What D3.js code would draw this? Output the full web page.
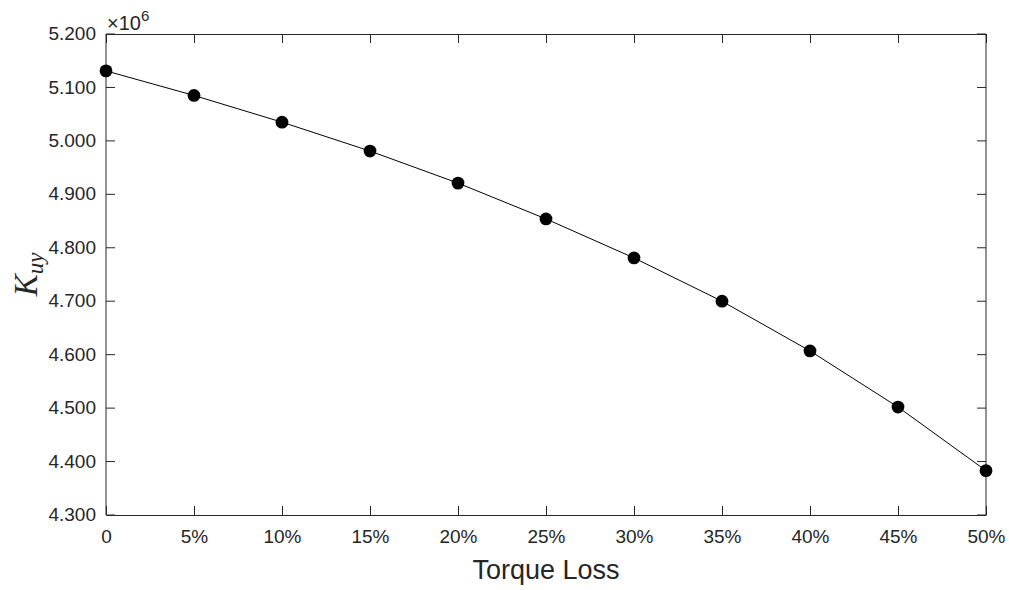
<!DOCTYPE html>
<html>
<head>
<meta charset="utf-8">
<script src="https://cdn.jsdelivr.net/npm/d3@7"></script>
<style>
  html, body { margin: 0; padding: 0; background: #fff; }
  svg { display: block; }
  .axis text { font-family: Arial, "Liberation Sans", Helvetica, sans-serif; font-size: 19px; fill: #262626; }
  .axis path, .axis line { stroke: #262626; }
</style>
</head>
<body>
<svg id="chart" width="1009" height="590"></svg>
<script>
// Torque loss levels (percent) and the corresponding stiffness K_uy
const lossPct = [0, 5, 10, 15, 20, 25, 30, 35, 40, 45, 50];
const kuy = [5131000, 5085000, 5035000, 4981000, 4921000, 4854000,
             4781000, 4700000, 4607000, 4502000, 4383000];
const yTicks = [4300000, 4400000, 4500000, 4600000, 4700000, 4800000,
                4900000, 5000000, 5100000, 5200000];
const xTicks = [0, 5, 10, 15, 20, 25, 30, 35, 40, 45, 50];

const svg = d3.select("#chart");
const margin = { left: 106, top: 34, right: 23, bottom: 75 };
const W = 1009, H = 590;
const iw = W - margin.left - margin.right;
const ih = H - margin.top - margin.bottom;

const g = svg.append("g").attr("transform", `translate(${margin.left},${margin.top})`);

const x = d3.scaleLinear().domain([0, 50]).range([0, iw]);
const y = d3.scaleLinear().domain([4300000, 5200000]).range([ih, 0]);

const fmtX = d => d === 0 ? "0" : d + "%";
const fmtY = d => (d / 1e6).toFixed(3);

// bottom axis with labels, inward ticks
g.append("g").attr("class", "axis").attr("transform", `translate(0,${ih})`)
  .call(d3.axisBottom(x).tickValues(xTicks).tickFormat(fmtX)
        .tickSizeInner(-9).tickSizeOuter(0).tickPadding(15));
// top axis: ticks only
g.append("g").attr("class", "axis")
  .call(d3.axisTop(x).tickValues(xTicks).tickFormat("")
        .tickSizeInner(-9).tickSizeOuter(0));
// left axis with labels
g.append("g").attr("class", "axis")
  .call(d3.axisLeft(y).tickValues(yTicks).tickFormat(fmtY)
        .tickSizeInner(-9).tickSizeOuter(0).tickPadding(10).offset(0));
// right axis: ticks only
g.append("g").attr("class", "axis").attr("transform", `translate(${iw},0)`)
  .call(d3.axisRight(y).tickValues(yTicks).tickFormat("")
        .tickSizeInner(-9).tickSizeOuter(0).offset(0));

// exponent note above the y axis
const ex = svg.append("text")
  .attr("x", 107).attr("y", 30)
  .attr("font-family", "Arial, 'Liberation Sans', sans-serif")
  .attr("font-size", 20).attr("fill", "#262626");
ex.append("tspan").text("\u00d710");
ex.append("tspan").attr("font-size", 15).attr("dy", -9.5).text("6");

// data line and markers
const line = d3.line().x((d, i) => x(lossPct[i])).y(d => y(d));
g.append("path").datum(kuy)
  .attr("d", line).attr("fill", "none")
  .attr("stroke", "#000").attr("stroke-width", 1);

g.selectAll("circle.pt").data(kuy).join("circle")
  .attr("class", "pt")
  .attr("cx", (d, i) => x(lossPct[i]))
  .attr("cy", d => y(d))
  .attr("r", 6.4)
  .attr("fill", "#000");

// axis titles
svg.append("text")
  .attr("x", margin.left + iw / 2).attr("y", 579)
  .attr("text-anchor", "middle")
  .attr("font-family", "Arial, 'Liberation Sans', sans-serif")
  .attr("font-size", 27).attr("fill", "#262626")
  .text("Torque Loss");

const yl = svg.append("text")
  .attr("transform", `translate(37,${margin.top + ih / 2}) rotate(-90)`)
  .attr("text-anchor", "middle")
  .attr("font-family", "'Liberation Serif', 'DejaVu Serif', serif")
  .attr("font-style", "italic")
  .attr("fill", "#262626");
yl.append("tspan").attr("font-size", 33).text("K");
yl.append("tspan").attr("font-size", 23).attr("dy", 6).text("uy");
</script>
</body>
</html>
